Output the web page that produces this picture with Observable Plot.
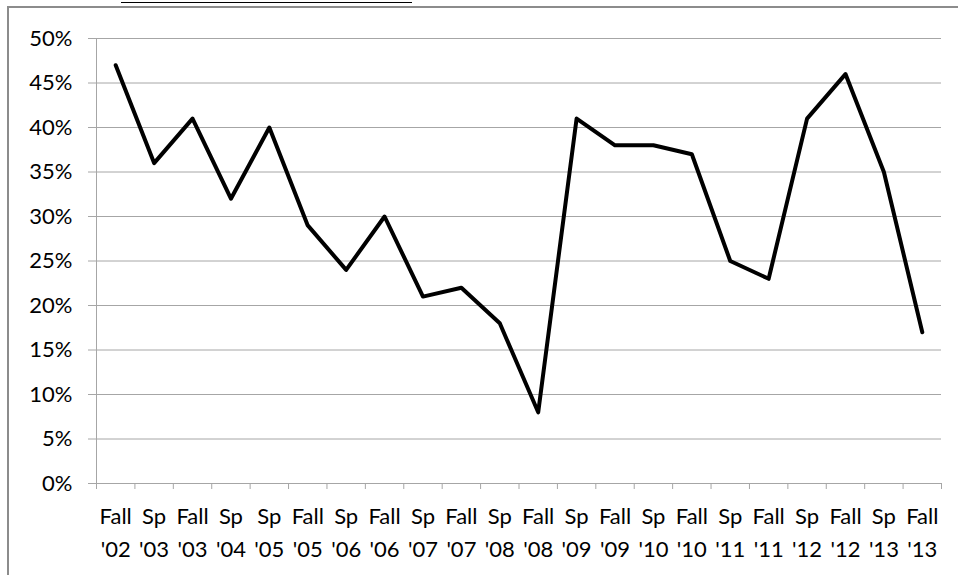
<!DOCTYPE html>
<html>
<head>
<meta charset="utf-8">
<script src="https://cdn.jsdelivr.net/npm/d3@7"></script>
<script src="https://cdn.jsdelivr.net/npm/@observablehq/plot@0.6"></script>
<style>
  html, body { margin: 0; padding: 0; background: #fff; overflow: hidden; }
  #wrap { position: relative; width: 958px; height: 575px; overflow: hidden; }
  #frame { position: absolute; left: 7px; top: 6px; width: 1000px; height: 700px; border: 2px solid #8c8c8c; box-sizing: border-box; }
  #title { position: absolute; left: 121px; width: 291px; top: -22px; height: 24px; overflow: visible;
           font: bold 19px "Liberation Serif", "DejaVu Serif", serif; color: #000; text-align: center; white-space: nowrap;
           border-bottom: 1.5px solid #000; line-height: 24px; }
  #chart { position: absolute; left: 0; top: 0; }
</style>
</head>
<body>
<div id="wrap">
  <div id="frame"></div>
  <div id="title">Early Warning Rate among Students</div>
  <div id="chart"></div>
</div>
<script>
const categories = ["Fall\n'02","Sp\n'03","Fall\n'03","Sp\n'04","Sp\n'05","Fall\n'05","Sp\n'06","Fall\n'06","Sp\n'07","Fall\n'07","Sp\n'08","Fall\n'08","Sp\n'09","Fall\n'09","Sp\n'10","Fall\n'10","Sp\n'11","Fall\n'11","Sp\n'12","Fall\n'12","Sp\n'13","Fall\n'13"];
const values = [0.47,0.36,0.41,0.32,0.40,0.29,0.24,0.30,0.21,0.22,0.18,0.08,0.41,0.38,0.38,0.37,0.25,0.23,0.41,0.46,0.35,0.17];
const yTicks = [0,0.05,0.10,0.15,0.20,0.25,0.30,0.35,0.40,0.45,0.50];

const data = values.map((v, i) => ({i, v, label: categories[i]}));
const idx = d3.range(categories.length);
const bounds = d3.range(categories.length + 1).map(i => i - 0.5);
const grey = "#a6a6a6";

const chart = Plot.plot({
  width: 958,
  height: 575,
  marginLeft: 96,
  marginRight: 17,
  marginTop: 38,
  marginBottom: 92,
  style: {fontFamily: "Lato, 'Open Sans', sans-serif", fontSize: "22px", background: "transparent", color: "#000", overflow: "visible"},
  x: {type: "linear", domain: [-0.5, categories.length - 0.5], axis: null, label: null},
  y: {domain: [0, 0.5], axis: null, label: null},
  marks: [
    Plot.gridY(yTicks, {stroke: grey, strokeOpacity: 1}),
    Plot.axisY(yTicks, {tickSize: 8, tickPadding: 16, stroke: grey, fill: "#000", tickFormat: d => Math.round(d * 100) + "%", fontSize: 22, label: null}),
    Plot.ruleX([-0.5], {stroke: grey}),
    Plot.axisX(bounds, {tickSize: 6, stroke: grey, tickFormat: () => "", label: null}),
    Plot.axisX(idx, {tickSize: 0, tickPadding: 17, fill: "#000", tickFormat: i => categories[i], lineHeight: 1.5, fontSize: 22, label: null}),
    Plot.line(data, {x: "i", y: "v", stroke: "#000", strokeWidth: 4, strokeLinejoin: "round", strokeLinecap: "round"})
  ]
});
document.getElementById("chart").appendChild(chart);
</script>
</body>
</html>
